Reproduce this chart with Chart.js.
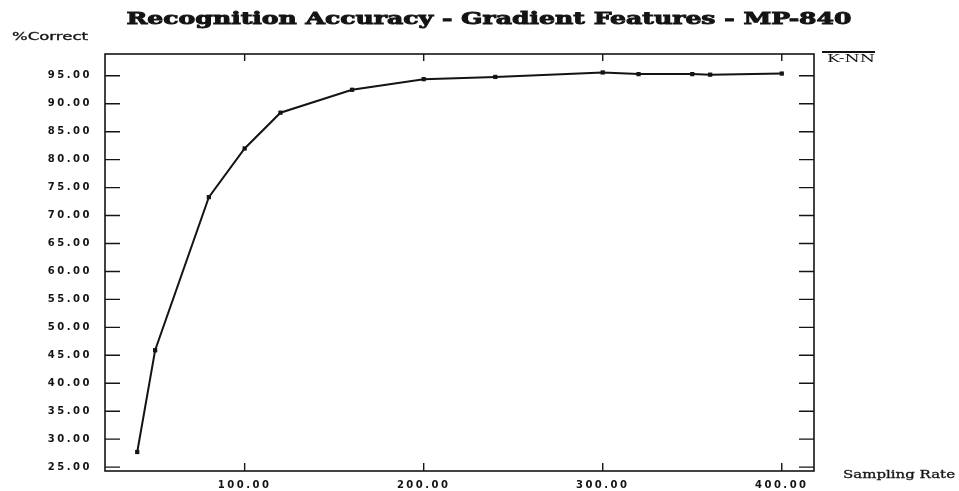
<!DOCTYPE html>
<html>
<head>
<meta charset="utf-8">
<title>Recognition Accuracy - Gradient Features - MP-840</title>
<script src="https://cdn.jsdelivr.net/npm/chart.js@4.4.1/dist/chart.umd.min.js"></script>
<style>
  html, body { margin: 0; padding: 0; background: #fff; }
</style>
</head>
<body>
<canvas id="chart" width="959" height="491"></canvas>
<script>
// --- Dados --------------------------------------------------------------------
var TITLE = "Recognition Accuracy - Gradient Features - MP-840";
var Y_LABEL = "%Correct";
var X_LABEL = "Sampling Rate";
var SERIES_LABEL = "K-NN";

var samplingRate = [40, 50, 80, 100, 120, 160, 200, 240, 300, 320, 350, 360, 400];
var knnCorrect   = [27.7, 45.9, 73.3, 82.0, 88.4, 92.5, 94.4, 94.8, 95.6, 95.3, 95.3, 95.2, 95.4];

var xTicks = [100, 200, 300, 400];
var yTicks = [25, 30, 35, 40, 45, 50, 55, 60, 65, 70, 75, 80, 85, 90, 95];

var INK = "#141414";

// Texto esticado na horizontal (a fonte original é bem larga).
function stretchText(ctx, text, x, y, font, width, align, heavy) {
  ctx.save();
  ctx.letterSpacing = "0px";
  ctx.font = font;
  ctx.fillStyle = INK;
  ctx.strokeStyle = INK;
  ctx.textBaseline = "alphabetic";
  ctx.textAlign = "left";
  var w = ctx.measureText(text).width;
  var k = width / w;
  var left = align === "center" ? x - width / 2 : x;
  ctx.translate(left, y);
  ctx.scale(k, 1);
  ctx.fillText(text, 0, 0);
  if (heavy) { ctx.lineWidth = heavy; ctx.strokeText(text, 0, 0); }
  ctx.restore();
}

// Moldura, marcas internas dos eixos, título, rótulos e legenda.
var framePlugin = {
  id: "frame",
  beforeLayout: function (chart) { chart.ctx.letterSpacing = "2.5px"; },
  beforeDraw: function (chart) { chart.ctx.letterSpacing = "2.5px"; },
  afterDraw: function (chart) {
    var ctx = chart.ctx, a = chart.chartArea;
    var xs = chart.scales.x, ys = chart.scales.y;
    ctx.save();
    ctx.strokeStyle = INK;
    ctx.lineWidth = 1.6;
    ctx.strokeRect(a.left, a.top, a.right - a.left, a.bottom - a.top);

    ctx.lineWidth = 1.4;
    ctx.beginPath();
    yTicks.forEach(function (v) {
      var py = ys.getPixelForValue(v);
      ctx.moveTo(a.left, py); ctx.lineTo(a.left + 15, py);
      ctx.moveTo(a.right - 15, py); ctx.lineTo(a.right, py);
    });
    xTicks.forEach(function (v) {
      var px = xs.getPixelForValue(v);
      ctx.moveTo(px, a.bottom); ctx.lineTo(px, a.bottom - 8);
      ctx.moveTo(px, a.top); ctx.lineTo(px, a.top + 7);
    });
    ctx.stroke();

    // legenda: traço acima do nome da série
    ctx.lineWidth = 2;
    ctx.beginPath();
    ctx.moveTo(822, 52); ctx.lineTo(875, 52);
    ctx.stroke();
    ctx.restore();

    stretchText(ctx, TITLE, 489, 24, "bold 17px 'DejaVu Serif'", 725, "center", 0.9);
    stretchText(ctx, Y_LABEL, 12, 40, "10px 'DejaVu Sans'", 76, "left", 0.3);
    stretchText(ctx, X_LABEL, 843, 478, "11px 'DejaVu Serif'", 112, "left", 0.3);
    stretchText(ctx, SERIES_LABEL, 827, 62, "11px 'DejaVu Serif'", 48, "left");
  }
};

var points = samplingRate.map(function (x, i) { return { x: x, y: knnCorrect[i] }; });

new Chart(document.getElementById("chart"), {
  type: "line",
  data: {
    datasets: [{
      label: SERIES_LABEL,
      data: points,
      borderColor: INK,
      backgroundColor: INK,
      borderWidth: 2,
      tension: 0,
      pointStyle: "rect",
      pointRadius: 3,
      pointBorderWidth: 0,
      clip: false
    }]
  },
  options: {
    responsive: false,
    devicePixelRatio: 1,
    animation: false,
    layout: { padding: { top: 54, right: 145, bottom: 0, left: 0 } },
    plugins: {
      legend: { display: false },
      title: { display: false },
      tooltip: { enabled: false }
    },
    scales: {
      x: {
        type: "linear",
        min: 22,
        max: 418,
        afterFit: function (s) { s.height = 20; },
        afterBuildTicks: function (s) { s.ticks = xTicks.map(function (v) { return { value: v }; }); },
        grid: { display: false, drawTicks: false },
        border: { display: false },
        ticks: {
          color: INK,
          padding: 8,
          maxRotation: 0,
          autoSkip: false,
          font: { family: "'DejaVu Sans'", size: 10, weight: "bold" },
          callback: function (v) { return Number(v).toFixed(2); }
        }
      },
      y: {
        type: "linear",
        min: 24.3,
        max: 98.9,
        afterFit: function (s) { s.width = 105; },
        afterBuildTicks: function (s) { s.ticks = yTicks.map(function (v) { return { value: v }; }); },
        grid: { display: false, drawTicks: false },
        border: { display: false },
        ticks: {
          color: INK,
          padding: 13,
          autoSkip: false,
          font: { family: "'DejaVu Sans'", size: 10, weight: "bold" },
          callback: function (v) { return Number(v).toFixed(2); }
        }
      }
    }
  },
  plugins: [framePlugin]
});
</script>
</body>
</html>
